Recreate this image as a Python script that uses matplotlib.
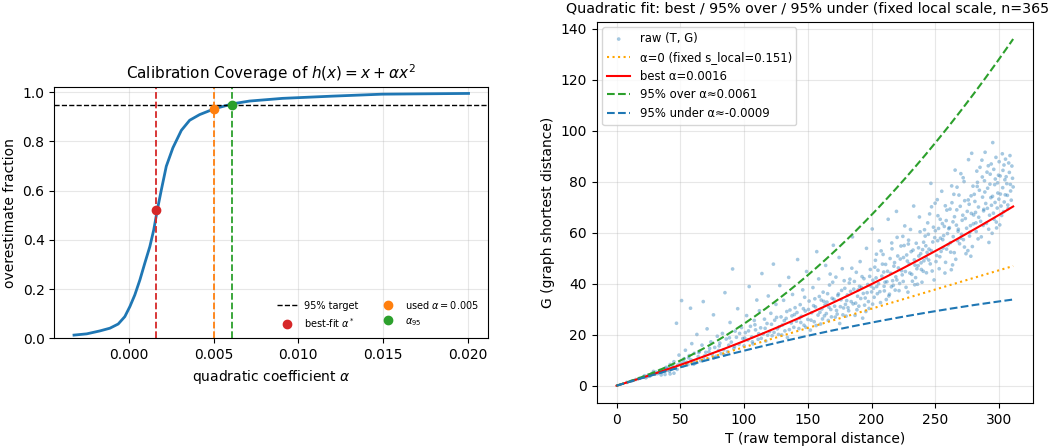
import numpy as np
import matplotlib
matplotlib.use("Agg")
import matplotlib.pyplot as plt

# coverage curve (alpha grid, fraction of pairs overestimated)
alphaGrid = [-0.00324, -0.00249, -0.00171, -0.00112, -0.00063, -0.00024, 0.00006, 0.00035,
             0.00065, 0.00094, 0.00124, 0.00147, 0.00167, 0.00192, 0.00221, 0.0026, 0.0031,
             0.00359, 0.00418, 0.00506, 0.00614, 0.00712, 0.00908, 0.01202, 0.01496, 0.02006]
coverage = [0.013, 0.018, 0.030, 0.041, 0.058, 0.088, 0.129, 0.176, 0.237, 0.305, 0.373, 0.441,
            0.518, 0.604, 0.699, 0.774, 0.845, 0.886, 0.909, 0.933, 0.953, 0.964, 0.975, 0.984,
            0.992, 0.995]

TARGET = 0.95
alphaBest = 0.0016
alphaUsed = 0.005
alpha95 = 0.0061
alphaUnder = -0.0009
covBest = 0.52
covUsed = 0.932
cov95 = 0.95
sLocal = 0.151
tMax = 311

# raw (T, G) pairs
rawPoints = [
    (8, 1.3), (12, 1.9), (15, 2.4), (18, 2.9),
    (21, 3.4), (22, 3.9), (24, 3.6), (25, 4.2), (27, 4.3), (28, 4.8), (30, 4.5), (31, 5.3), (33, 5.1), (34, 6.0),
    (23, 3.1), (26, 3.7), (29, 5.6), (32, 4.7), (35, 5.2), (35, 4.2), (38, 4.4), (42, 4.6), (45, 4.9),
    (36, 5.6), (37, 6.4), (38, 5.9), (39, 7.2), (40, 6.1), (41, 6.9), (42, 8.3), (43, 6.5), (44, 7.6), (45, 9.4),
    (46, 7.0), (47, 24.5), (48, 8.1), (49, 12.0), (38.5, 6.8), (41.5, 5.7), (44.5, 7.1), (47.5, 6.4),
    (50, 8.9), (51, 33.4), (52, 7.8), (53, 10.6), (54, 13.9), (55, 9.2), (56, 8.3), (57, 11.8), (58, 30.4),
    (58.5, 10.1), (59, 16.5), (60, 9.6), (61, 12.7), (62, 8.9), (63, 20.1), (64, 11.4),
    (52.5, 9.4), (56.5, 10.9), (60.5, 8.4), (64.5, 13.0),
    (65, 13.5), (66, 9.8), (67, 15.9), (68, 33.0), (69, 11.7), (70, 13.1), (71, 22.3), (72, 10.4), (73, 14.6),
    (74, 17.2), (75, 12.3), (76, 27.8), (77, 15.0), (78, 11.5), (79, 19.4), (80, 13.8),
    (68.5, 10.2), (72.5, 13.3), (76.5, 11.0), (80.5, 15.6),
    (81, 16.7), (82, 12.6), (83, 20.5), (84, 14.1), (85, 36.5), (86, 18.3), (87, 13.3), (88, 15.9), (89, 24.8),
    (90, 17.1), (91, 45.8), (92, 14.6), (93, 21.4), (94, 19.0), (95, 30.2), (96, 16.2), (98, 22.8), (99, 18.5),
    (84.5, 12.1), (88.5, 18.8), (92.5, 15.4), (96.5, 20.5),
    (100, 15.6), (101, 20.8), (102, 27.5), (103, 17.9), (104, 38.9), (105, 23.3), (106, 19.1), (107, 16.4),
    (108, 25.6), (109, 21.9), (110, 33.6), (111, 18.2), (112, 29.4), (113, 22.7), (114, 44.0), (115, 20.3),
    (116, 26.1), (117, 17.5), (118, 24.4), (119, 35.2),
    (100.5, 18.7), (103.5, 21.5), (106.5, 17.2), (108.5, 23.9), (111.5, 20.4), (113.5, 18.6), (116.5, 22.5),
    (118.5, 19.8),
    (120, 21.2), (121, 28.4), (122, 19.6), (123, 47.7), (124, 25.7), (125, 31.9), (126, 22.3), (127, 20.1),
    (128, 39.3), (129, 27.0), (130, 23.8), (131, 33.5), (132, 21.5), (133, 26.4), (134, 18.9), (135, 42.5),
    (136, 29.7), (137, 24.6), (138, 35.8), (139, 22.9), (139.5, 27.9), (140, 30.6),
    (121.5, 24.1), (123.5, 20.9), (125.5, 26.8), (127.5, 23.1), (129.5, 19.9), (131.5, 25.5), (133.5, 29.1),
    (135.5, 22.0), (137.5, 27.4),
    (141, 25.3), (142, 49.5), (143, 22.4), (144, 31.8), (145, 27.2), (146, 37.6), (147, 23.7), (148, 29.3),
    (149, 44.8), (150, 26.0), (151, 33.2), (152, 21.8), (153, 28.6), (154, 38.5), (155, 25.1), (156, 30.9),
    (157, 52.6), (158, 27.7), (159, 35.0), (160, 24.2), (154.5, 31.4), (147.5, 34.7), (143.5, 26.5), (158.5, 41.9),
    (141.5, 28.7), (144.5, 24.8), (146.5, 30.2), (148.5, 22.9), (150.5, 29.9), (152.5, 25.7), (155.5, 34.1),
    (156.5, 23.6), (159.5, 28.8),
    (161, 30.1), (162, 36.7), (163, 27.4), (164, 47.2), (165, 32.8), (166, 25.6), (167, 39.5), (168, 29.9),
    (169, 34.3), (170, 55.1), (171, 31.2), (172, 42.6), (173, 28.1), (174, 36.0), (175, 24.4), (176, 33.7),
    (177, 45.9), (178, 30.5), (179, 38.2), (180, 27.3), (162.5, 33.1), (167.5, 43.8), (171.5, 26.9),
    (174.5, 50.3), (176.5, 37.4), (179.5, 31.9),
    (160.5, 33.6), (161.5, 26.2), (163.5, 31.7), (164.5, 28.3), (165.5, 36.1), (166.5, 30.8), (168.5, 27.0),
    (169.5, 40.6), (170.5, 33.9), (172.5, 29.5), (173.5, 35.4), (175.5, 31.0), (177.5, 27.8), (178.5, 41.2),
    (181, 35.6), (182, 29.4), (183, 41.8), (184, 33.0), (185, 58.4), (186, 37.9), (187, 27.6), (188, 44.5),
    (189, 35.1), (190, 31.2), (191, 48.7), (192, 38.6), (193, 26.5), (194, 42.0), (195, 34.4), (196, 53.9),
    (197, 39.7), (198, 30.3), (199, 45.6), (200, 36.8), (182.5, 40.3), (184.5, 46.1), (187.5, 32.4),
    (190.5, 39.0), (193.5, 36.2), (195.5, 29.1), (198.5, 42.9), (200.5, 61.5),
    (180.5, 33.4), (181.5, 30.6), (183.5, 37.0), (185.5, 32.1), (186.5, 40.9), (188.5, 29.8), (189.5, 37.6),
    (191.5, 34.2), (192.5, 42.8), (194.5, 31.6), (196.5, 36.5), (197.5, 33.0), (199.5, 39.1), (200.8, 32.0),
    (201, 41.4), (202, 34.7), (203, 49.2), (204, 38.9), (205, 45.3), (206, 56.8), (207, 32.6), (208, 43.0),
    (209, 51.5), (210, 37.2), (211, 47.6), (212, 40.8), (213, 65.3), (214, 35.9), (215, 44.1), (216, 53.7),
    (217, 39.4), (218, 48.3), (219, 42.7), (220, 58.2), (202.5, 46.5), (204.5, 36.1), (207.5, 52.9),
    (209.5, 44.6), (211.5, 33.8), (214.5, 49.9), (216.5, 41.2), (218.5, 37.5), (219.5, 68.4), (205.5, 40.0),
    (201.5, 38.2), (203.5, 42.3), (206.5, 36.9), (208.5, 47.7), (210.5, 40.6), (212.5, 44.9), (213.5, 35.2),
    (215.5, 38.8), (217.5, 46.9), (219.8, 41.5), (203.8, 51.6), (209.8, 39.0), (215.8, 56.0),
    (221, 46.2), (222, 40.1), (223, 54.8), (224, 43.5), (225, 50.3), (226, 62.7), (227, 38.6), (228, 48.9),
    (229, 57.1), (230, 44.2), (231, 52.6), (232, 41.0), (233, 70.5), (234, 47.3), (235, 55.9), (236, 39.8),
    (237, 50.9), (238, 60.4), (239, 45.6), (240, 53.4), (222.5, 49.7), (224.5, 58.6), (226.5, 44.8),
    (228.5, 36.7), (230.5, 61.3), (232.5, 53.2), (234.5, 42.4), (236.5, 47.1), (237.5, 66.2), (238.5, 51.8),
    (239.5, 40.6), (225.5, 55.0),
    (220.5, 50.9), (221.5, 37.3), (223.5, 45.1), (224.8, 40.9), (227.5, 51.3), (229.5, 47.8), (231.5, 43.7),
    (233.5, 49.4), (235.5, 45.9), (236.8, 54.1), (238.8, 48.2), (240.5, 44.9), (228.8, 55.6), (233.8, 39.6),
    (241, 49.0), (242, 58.7), (243, 44.3), (244, 63.9), (245, 53.6), (246, 47.8), (247, 70.2), (248, 56.4),
    (249, 41.5), (250, 60.8), (251, 51.1), (252, 66.7), (253, 45.9), (254, 57.9), (255, 76.3), (256, 54.0),
    (257, 62.5), (258, 48.4), (259, 68.9), (260, 55.3), (241.5, 61.2), (243.5, 52.3), (245.5, 67.4),
    (247.5, 45.0), (249.5, 58.1), (251.5, 73.0), (253.5, 50.6), (255.5, 63.6), (257.5, 44.2), (259.5, 59.7),
    (242.5, 54.9), (246.5, 79.4), (252.5, 61.7), (258.5, 64.8),
    (240.8, 56.3), (242.8, 50.2), (244.5, 59.4), (246.8, 53.0), (248.5, 62.2), (250.5, 48.7), (251.8, 56.9),
    (253.8, 65.3), (254.5, 52.7), (256.5, 58.9), (257.8, 70.6), (258.8, 53.6), (244.8, 49.3), (249.8, 71.6),
    (255.8, 57.3),
    (261, 62.0), (262, 52.4), (263, 71.8), (264, 58.5), (265, 66.3), (266, 49.6), (267, 77.9), (268, 61.4),
    (269, 55.7), (270, 83.2), (271, 64.9), (272, 57.3), (273, 72.6), (274, 51.8), (275, 68.4), (276, 88.7),
    (277, 60.2), (278, 74.5), (279, 54.6), (280, 67.0), (261.5, 69.3), (262.5, 45.5), (264.5, 75.1),
    (266.5, 63.0), (267.5, 56.9), (269.5, 70.4), (270.5, 59.4), (272.5, 80.1), (273.5, 65.6), (275.5, 53.0),
    (276.5, 71.2), (277.5, 62.8), (278.5, 91.2), (279.5, 78.3), (265.5, 84.6), (263.5, 47.4),
    (260.5, 61.6), (261.8, 56.1), (263.8, 64.3), (264.8, 52.2), (266.8, 69.0), (267.8, 60.6), (268.5, 74.8),
    (269.8, 57.9), (271.5, 66.9), (272.8, 54.4), (274.5, 61.8), (275.8, 72.9), (276.8, 58.7), (278.2, 67.6),
    (279.8, 63.5), (262.8, 78.4), (271.8, 81.6), (277.8, 50.8),
    (281, 72.3), (282, 60.5), (283, 79.8), (284, 66.1), (285, 85.7), (286, 58.4), (287, 74.0), (288, 69.2),
    (289, 91.6), (290, 63.7), (291, 77.5), (292, 56.2), (293, 83.0), (294, 70.8), (295, 95.4), (296, 65.3),
    (297, 81.1), (298, 61.9), (299, 75.6), (300, 87.9), (281.5, 68.0), (282.5, 84.2), (283.5, 57.6),
    (284.5, 76.7), (286.5, 88.5), (287.5, 62.9), (288.5, 80.4), (289.5, 71.5), (291.5, 86.3), (292.5, 66.9),
    (293.5, 73.8), (294.5, 59.8), (296.5, 78.9), (297.5, 89.6), (298.5, 69.7), (299.5, 82.6),
    (280.5, 75.1), (281.8, 63.9), (282.8, 78.2), (283.8, 70.1), (285.5, 64.5), (286.8, 81.9), (287.8, 68.6),
    (288.8, 76.0), (290.5, 83.8), (290.8, 69.6), (291.8, 61.4), (292.8, 79.1), (293.8, 87.0), (294.8, 74.3),
    (295.5, 67.7), (295.8, 84.9), (296.8, 71.9), (297.8, 64.2), (298.8, 79.6), (299.8, 73.2),
    (301, 75.2), (302, 66.8), (303, 84.5), (304, 72.1), (305, 88.9), (306, 79.3), (307, 69.5), (308, 83.7),
    (309, 76.4), (310, 86.2), (300.5, 63.1), (302.5, 91.0), (304.5, 80.8), (306.5, 74.7), (308.5, 90.3),
    (311, 78.0),
    (300.8, 82.3), (301.5, 70.5), (302.8, 77.7), (303.5, 68.3), (303.8, 86.6), (304.8, 74.9), (305.5, 82.0),
    (306.8, 70.9), (307.5, 87.4), (308.8, 79.0), (309.5, 72.8), (310.5, 81.4),
]
tRaw = np.array([p[0] for p in rawPoints])
gRaw = np.array([p[1] for p in rawPoints])


def quadModel(t, a):
    return sLocal * (t + a * t ** 2)


fig = plt.figure(figsize=(10.5, 4.46), dpi=100)
axL = fig.add_axes([0.0517, 0.2415, 0.4133, 0.5628])
axR = fig.add_axes([0.5683, 0.0964, 0.4155, 0.855])

# left: coverage vs alpha
axL.plot(alphaGrid, coverage, color="C0", lw=2)
axL.axhline(TARGET, color="k", ls="--", lw=1, label="95% target")
axL.axvline(alphaBest, color="C3", ls="--", lw=1.3)
axL.axvline(alphaUsed, color="C1", ls="--", lw=1.3)
axL.axvline(alpha95, color="C2", ls="--", lw=1.3)
axL.plot([alphaBest], [covBest], "o", color="C3", ms=6, label=r"best-fit $\alpha^*$")
axL.plot([alphaUsed], [covUsed], "o", color="C1", ms=6, label=r"used $\alpha = 0.005$")
axL.plot([alpha95], [cov95], "o", color="C2", ms=6, label=r"$\alpha_{95}$")
axL.set_ylim(0, 1.02)
axL.set_xlabel(r"quadratic coefficient $\alpha$")
axL.set_ylabel("overestimate fraction")
axL.set_title(r"Calibration Coverage of $h(x) = x + \alpha x^2$", fontsize=11)
axL.grid(alpha=0.3)
axL.legend(loc="lower right", ncol=2, fontsize=7, frameon=False)

# right: raw pairs and fitted curves
tLine = np.linspace(0, tMax, 200)
axR.scatter(tRaw, gRaw, s=7, alpha=0.4, color="C0", edgecolors="none", label="raw (T, G)")
axR.plot(tLine, quadModel(tLine, 0.0), ":", color="orange", lw=1.5,
         label=f"α=0 (fixed s_local={sLocal:.3f})")
axR.plot(tLine, quadModel(tLine, alphaBest), "-", color="red", lw=1.5, label=f"best α={alphaBest:.4f}")
axR.plot(tLine, quadModel(tLine, alpha95), "--", color="C2", lw=1.5, label=f"95% over α≈{alpha95:.4f}")
axR.plot(tLine, quadModel(tLine, alphaUnder), "--", color="C0", lw=1.5,
         label=f"95% under α≈{alphaUnder:.4f}")
axR.set_xlabel("T (raw temporal distance)")
axR.set_ylabel("G (graph shortest distance)")
axR.set_title("Quadratic fit: best / 95% over / 95% under (fixed local scale, n=3650)", fontsize=10.3)
axR.grid(alpha=0.3)
axR.legend(loc="upper left", fontsize="small")

fig.savefig("out.png", dpi=100)
